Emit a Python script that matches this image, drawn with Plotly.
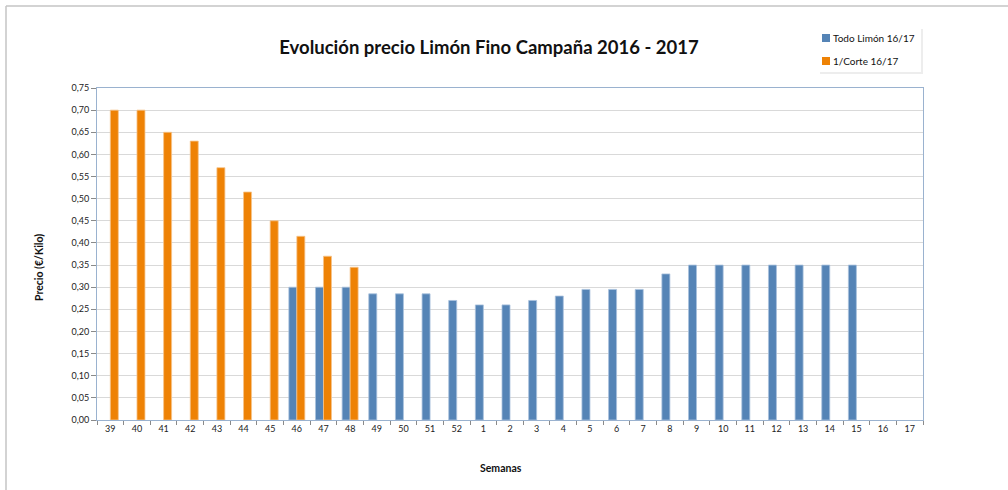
import plotly.graph_objects as go

semanas = ["39", "40", "41", "42", "43", "44", "45", "46", "47", "48", "49", "50", "51", "52",
           "1", "2", "3", "4", "5", "6", "7", "8", "9", "10", "11", "12", "13", "14", "15", "16", "17"]
todo_limon = [None, None, None, None, None, None, None, 0.30, 0.30, 0.30, 0.285, 0.285, 0.285, 0.27,
              0.26, 0.26, 0.27, 0.28, 0.295, 0.295, 0.295, 0.33, 0.35, 0.35, 0.35, 0.35, 0.35, 0.35, 0.35,
              None, None]
primer_corte = [0.70, 0.70, 0.65, 0.63, 0.57, 0.515, 0.45, 0.415, 0.37, 0.345,
                None, None, None, None, None, None, None, None, None, None, None, None, None, None,
                None, None, None, None, None, None, None]
series_names = ["Todo Limón 16/17", "1/Corte 16/17"]
series_colors = ["#5584B6", "#EE8205"]
y_ticks = [round(i * 0.05, 2) for i in range(16)]

FONT = "Lato"
W, H = 1008, 490
ML, MR, MT, MB = 97, 85, 88, 70
pw, ph = W - ML - MR, H - MT - MB


def px(x):
    return (x - ML) / pw


def py(y):
    return (H - MB - y) / ph


fig = go.Figure()
fig.add_trace(go.Bar(x=semanas, y=todo_limon, name=series_names[0], showlegend=False,
                     marker=dict(color=series_colors[0], line=dict(color="#A9C1DD", width=0.8))))
fig.add_trace(go.Bar(x=semanas, y=primer_corte, name=series_names[1], showlegend=False,
                     marker=dict(color=series_colors[1], line=dict(color="#F6C48C", width=0.8))))

shapes = []
# outer chart border (top and left edges)
shapes.append(dict(type="line", xref="paper", yref="paper", x0=px(6), x1=px(W + 2), y0=py(6), y1=py(6),
                   line=dict(color="#C4C4C4", width=1.5)))
shapes.append(dict(type="line", xref="paper", yref="paper", x0=px(6), x1=px(6), y0=py(6), y1=py(H + 2),
                   line=dict(color="#C4C4C4", width=1.5)))
# legend box with soft shadow
shapes.append(dict(type="rect", xref="paper", yref="paper", x0=px(820), x1=px(923), y0=py(29), y1=py(74),
                   line=dict(width=0), fillcolor="rgba(0,0,0,0.07)", layer="above"))
shapes.append(dict(type="rect", xref="paper", yref="paper", x0=px(818), x1=px(921), y0=py(27), y1=py(72),
                   line=dict(width=0), fillcolor="white", layer="above"))
annotations = []
for i, (nm, col) in enumerate(zip(series_names, series_colors)):
    cy = 38 + 23 * i
    shapes.append(dict(type="rect", xref="paper", yref="paper", x0=px(822), x1=px(830),
                       y0=py(cy - 4), y1=py(cy + 4), line=dict(width=0), fillcolor=col, layer="above"))
    annotations.append(dict(text=nm, xref="paper", yref="paper", x=px(831), y=py(cy), xanchor="left",
                            yanchor="middle", showarrow=False, font=dict(family=FONT, size=10, color="#111111")))

annotations.append(dict(text="<b>Semanas</b>", xref="paper", yref="paper", x=px(501), y=py(468),
                        xanchor="center", yanchor="middle", showarrow=False,
                        font=dict(family=FONT, size=10.5, color="#111111")))
annotations.append(dict(text="<b>Precio (€/Kilo)</b>", xref="paper", yref="paper", x=px(39), y=py(268),
                        xanchor="center", yanchor="middle", showarrow=False, textangle=-90,
                        font=dict(family=FONT, size=10.5, color="#111111")))

fig.update_layout(
    width=W, height=H,
    margin=dict(l=ML, r=MR, t=MT, b=MB, autoexpand=False),
    paper_bgcolor="white", plot_bgcolor="white",
    separators=", ",
    font=dict(family=FONT, size=9, color="#222222"),
    barmode="group", bargap=0.4, bargroupgap=0,
    showlegend=False,
    hovermode=False,
    title=dict(text="<b>Evolución precio Limón Fino Campaña 2016 - 2017</b>",
               x=px(489), xanchor="center", xref="paper", y=1 - 48 / H, yanchor="middle",
               font=dict(family=FONT, size=18.5, color="#111111")),
    shapes=shapes,
    annotations=annotations,
    xaxis=dict(type="category", tickson="boundaries", ticks="outside", ticklen=4,
               tickcolor="#8A8A8A", showline=True, linecolor="#9AB2CF", linewidth=1, mirror=True,
               showgrid=False, tickfont=dict(size=9), automargin=False),
    yaxis=dict(range=[0, 0.75], tickvals=y_ticks, tickformat=".2f", ticks="outside", ticklen=5,
               tickcolor="#8A8A8A", showline=True, linecolor="#9AB2CF", linewidth=1, mirror=True,
               showgrid=True, gridcolor="#D9D9D9", gridwidth=1, zeroline=False,
               tickfont=dict(size=9), automargin=False),
)

fig.write_html("out.html", config={"displayModeBar": False, "staticPlot": True},
               post_script="document.body.style.margin='0';document.body.style.overflow='hidden';")
